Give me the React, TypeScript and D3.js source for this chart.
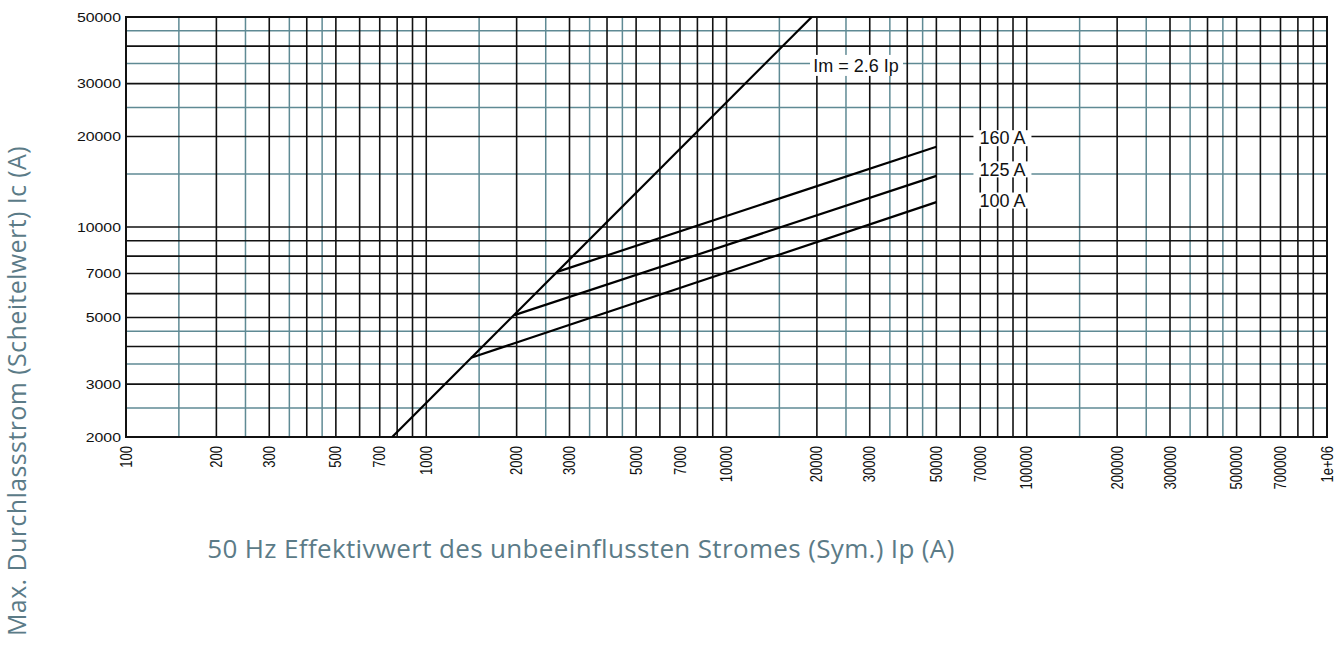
import React from 'react';
import * as d3 from 'd3';

const xDomain: [number, number] = [100, 1000000];
const yDomain: [number, number] = [2000, 50000];
const xTickLabels = [100, 200, 300, 500, 700, 1000, 2000, 3000, 5000, 7000, 10000, 20000, 30000, 50000, 70000, 100000, 200000, 300000, 500000, 700000, 1000000];
const yTickLabels = [2000, 3000, 5000, 7000, 10000, 20000, 30000, 50000];
const majorMultipliers = [1, 2, 3, 4, 5, 6, 7, 8, 9];
const halfMultipliers = [1.5, 2.5, 3.5, 4.5];
const decades = [100, 1000, 10000, 100000, 1000000];

// Im = 2.6 Ip line
const imIp = [770, 19230];
const imIc = [2000, 50000];

// current-limiting curves
const curveNames = ['100 A', '125 A', '160 A'];
const curveIp = [[1410, 50000], [1965, 50000], [2730, 50000]];
const curveIc = [[3670, 12100], [5090, 14800], [7090, 18500]];

// label anchors (data coordinates)
const labelIp = 83000;
const labelIc = [12250, 15550, 19750];
const imLabelIp = 27000;
const imLabelIc = 34500;

const W = 1335;
const H = 651;
const margin = { left: 126, right: 8, top: 17, bottom: 214 };
const GRID_TEAL = '#5f8a94';
const TITLE = '#5b7b87';

export default function App() {
  const x = d3.scaleLog().domain(xDomain).range([margin.left, W - margin.right]);
  const y = d3.scaleLog().domain(yDomain).range([H - margin.bottom, margin.top]);
  const [x0, x1] = x.range();
  const [y0, y1] = y.range(); // y0 bottom, y1 top

  const gridVals = (mults: number[], dom: [number, number]) => {
    const out: number[] = [];
    decades.forEach((d) => mults.forEach((m) => {
      const v = d * m;
      if (v > dom[0] * 1.0001 && v < dom[1] * 0.9999) out.push(v);
    }));
    return out;
  };
  const xMajor = gridVals(majorMultipliers, xDomain);
  const xHalf = gridVals(halfMultipliers, xDomain);
  const yMajor = gridVals(majorMultipliers, [1000, 1e6]).filter((v) => v > yDomain[0] && v < yDomain[1]);
  const yHalf = gridVals(halfMultipliers, [1000, 1e6]).filter((v) => v > yDomain[0] && v < yDomain[1]);

  const line = d3.line<[number, number]>().x((d) => x(d[0])).y((d) => y(d[1]));
  const imData: [number, number][] = imIp.map((v, i) => [v, imIc[i]]);
  const curves = curveIp.map((ips, k) => ips.map((v, i) => [v, curveIc[k][i]] as [number, number]));

  const fmt = (v: number) => (v >= 1e6 ? '1e+06' : String(v));
  const tickFont = "'Liberation Sans', Arial, sans-serif";
  const titleFont = "'Open Sans', 'Noto Sans', sans-serif";

  return (
    <svg width={W} height={H} style={{ position: 'absolute', left: 0, top: 0, background: '#fff' }}>
      <defs>
        <clipPath id="plot">
          <rect x={x0} y={y1} width={x1 - x0} height={y0 - y1} />
        </clipPath>
      </defs>
      {/* teal half gridlines */}
      <g stroke={GRID_TEAL} strokeWidth={1.5}>
        {xHalf.map((v) => <line key={'xh' + v} x1={x(v)} x2={x(v)} y1={y1} y2={y0} />)}
        {yHalf.map((v) => <line key={'yh' + v} x1={x0} x2={x1} y1={y(v)} y2={y(v)} />)}
      </g>
      {/* black major gridlines */}
      <g stroke="#111" strokeWidth={1.6}>
        {xMajor.map((v) => <line key={'xm' + v} x1={x(v)} x2={x(v)} y1={y1} y2={y0} />)}
        {yMajor.map((v) => <line key={'ym' + v} x1={x0} x2={x1} y1={y(v)} y2={y(v)} />)}
      </g>
      <rect x={x0} y={y1} width={x1 - x0} height={y0 - y1} fill="none" stroke="#111" strokeWidth={2} />
      {/* curves */}
      <g clipPath="url(#plot)" fill="none" stroke="#000" strokeWidth={2.2}>
        <path d={line(imData) || ''} />
        {curves.map((c, i) => <path key={curveNames[i]} d={line(c) || ''} />)}
      </g>
      {/* labels */}
      <g fontFamily={tickFont} fontSize={18} fill="#111">
        <rect x={x(imLabelIp) - 46} y={y(imLabelIc) - 10.5} width={93} height={21} fill="#fff" />
        <text x={x(imLabelIp)} y={y(imLabelIc)} dy="0.35em" textAnchor="middle">Im = 2.6 Ip</text>
        {curveNames.map((n, i) => (
          <rect key={'r' + n} x={x(labelIp) - 29} y={y(labelIc[i]) - 8} width={58} height={16} fill="#fff" />
        ))}
        {curveNames.map((n, i) => (
          <text key={'t' + n} x={x(labelIp)} y={y(labelIc[i])} dy="0.35em" textAnchor="middle">{n}</text>
        ))}
      </g>
      {/* y tick labels */}
      <g fontFamily={tickFont} fontSize={13} fill="#111" textAnchor="end">
        {yTickLabels.map((v) => (
          <text key={'yl' + v} transform={`translate(${x0 - 5},${y(v)}) scale(1.22,1)`} dy="0.35em">{fmt(v)}</text>
        ))}
      </g>
      {/* x tick labels */}
      <g fontFamily={tickFont} fontSize={13} fill="#111" textAnchor="end">
        {xTickLabels.map((v) => (
          <text key={'xl' + v} transform={`translate(${x(v)},${y0 + 9}) scale(1.22,1) rotate(-90)`} dy="0.35em">{fmt(v)}</text>
        ))}
      </g>
      {/* axis titles */}
      <text x={581} y={558} fontFamily={titleFont} fontSize={26} letterSpacing={0.35} fill={TITLE} textAnchor="middle">
        50 Hz Effektivwert des unbeeinflussten Stromes (Sym.) Ip (A)
      </text>
      <text transform={`translate(26,391) rotate(-90)`} fontFamily={titleFont} fontSize={25} letterSpacing={0.4} fill={TITLE} textAnchor="middle">
        Max. Durchlassstrom (Scheitelwert) Ic (A)
      </text>
    </svg>
  );
}
